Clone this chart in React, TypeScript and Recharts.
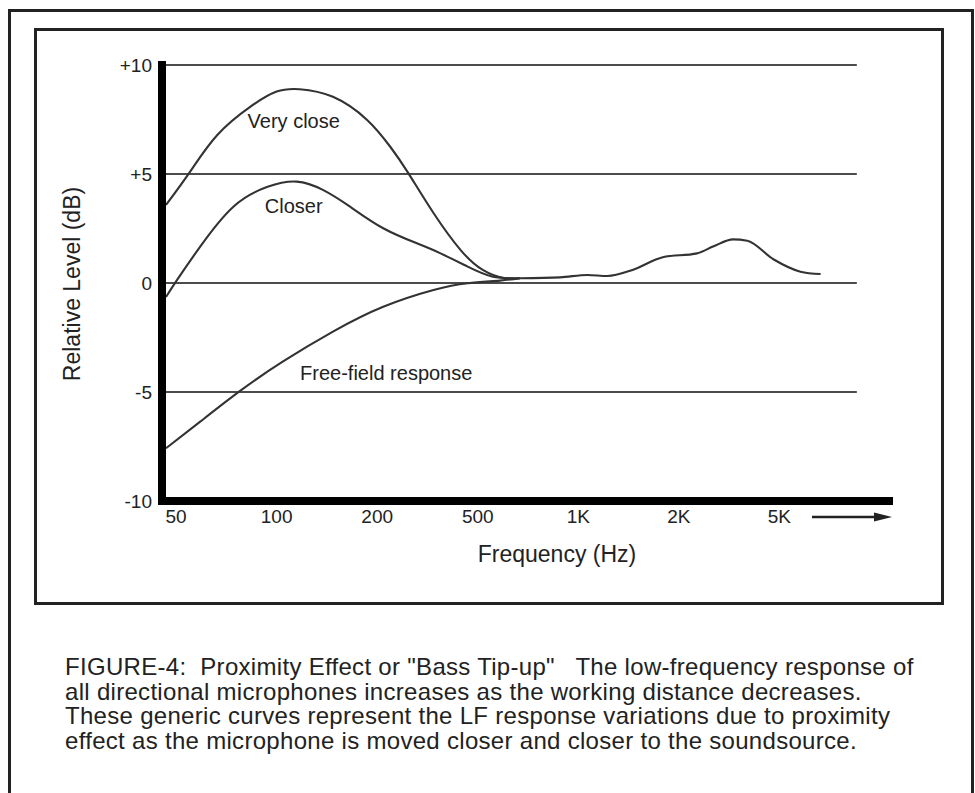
import React from 'react';
import { LineChart, Line, XAxis, YAxis, ReferenceLine, ReferenceDot } from 'recharts';

const FONT = '"Liberation Sans", Arial, Helvetica, sans-serif';

// X axis: evenly spaced frequency tick positions (chart is drawn with equal spacing between labels)
const freqTickPos = [0, 1, 2, 3, 4, 5, 6];
const freqTickLabels = ['50', '100', '200', '500', '1K', '2K', '5K'];

const levelTicks = [-10, -5, 0, 5, 10];
const levelTickLabels = ['-10', '-5', '0', '+5', '+10'];
const gridLevels = [-5, 0, 5, 10];

// Series (x in tick-position units, y in dB)
const veryCloseFreq = [-0.1, 0.14, 0.41, 0.74, 1.0, 1.23, 1.56, 1.9, 2.13, 2.3, 2.56, 2.83, 3.05, 3.26, 3.42];
const veryCloseLevel = [3.58, 5.11, 6.79, 8.09, 8.78, 8.89, 8.54, 7.48, 6.25, 5.11, 3.21, 1.51, 0.6, 0.23, 0.22];

const closerFreq = [-0.1, 0.01, 0.24, 0.57, 0.91, 1.2, 1.46, 1.73, 2.06, 2.4, 2.63, 2.9, 3.15, 3.42];
const closerLevel = [-0.64, 0.14, 1.67, 3.5, 4.41, 4.65, 4.27, 3.5, 2.51, 1.81, 1.36, 0.75, 0.29, 0.22];

const freeFieldFreq = [-0.1, 0.24, 0.64, 1.06, 1.56, 2.06, 2.56, 2.9, 3.22, 3.42];
const freeFieldLevel = [-7.58, -6.36, -4.94, -3.61, -2.23, -1.09, -0.32, -0.01, 0.11, 0.22];

// common high-frequency response shared by all curves
const commonFreq = [3.42, 3.82, 4.09, 4.29, 4.54, 4.84, 5.18, 5.34, 5.54, 5.68, 5.94, 6.21, 6.41];
const commonLevel = [0.22, 0.26, 0.37, 0.32, 0.6, 1.18, 1.36, 1.67, 2.0, 1.94, 1.09, 0.52, 0.41];

const curveLabels = ['Very close', 'Closer', 'Free-field response'];
const curveLabelFreq = [1.17, 1.17, 2.09];
const curveLabelLevel = [7.11, 3.21, -4.45];

const captionLines = [
  'FIGURE-4:  Proximity Effect or "Bass Tip-up"   The low-frequency response of',
  'all directional microphones increases as the working distance decreases.',
  'These generic curves represent the LF response variations due to proximity',
  'effect as the microphone is moved closer and closer to the soundsource.',
];

const toData = (xs: number[], ys: number[]) => xs.map((f, i) => ({ f, v: ys[i] }));
const veryCloseData = toData(veryCloseFreq, veryCloseLevel);
const closerData = toData(closerFreq, closerLevel);
const freeFieldData = toData(freeFieldFreq, freeFieldLevel);
const commonData = toData(commonFreq, commonLevel);

const X_MIN = -0.14;
const X_MAX = 7.09;
const GRID_END = 6.77;

export default function App() {
  const lineColor = '#333';
  const lw = 2.1;
  return (
    <div
      style={{
        position: 'absolute',
        left: 0,
        top: 0,
        width: 975,
        height: 793,
        overflow: 'hidden',
        background: '#fff',
        fontFamily: FONT,
      }}
    >
      {/* outer frame */}
      <div
        style={{
          position: 'absolute',
          left: 8,
          top: 9,
          width: 966,
          height: 820,
          border: '3px solid #222',
          boxSizing: 'border-box',
        }}
      />
      {/* inner frame */}
      <div
        style={{
          position: 'absolute',
          left: 34,
          top: 28,
          width: 910,
          height: 577,
          border: '3px solid #222',
          boxSizing: 'border-box',
        }}
      />
      <div style={{ position: 'absolute', left: 0, top: 0 }}>
        <LineChart width={975} height={610} margin={{ top: 65, right: 86, bottom: 69, left: 0 }}>
          <XAxis
            type="number"
            dataKey="f"
            domain={[X_MIN, X_MAX]}
            allowDataOverflow
            ticks={freqTickPos}
            interval={0}
            tickFormatter={(v: number) => freqTickLabels[Math.round(v)] ?? ''}
            axisLine={{ stroke: '#000', strokeWidth: 8, strokeLinecap: 'square' }}
            tickLine={false}
            tickMargin={3}
            height={40}
            tick={{ fontSize: 19, fill: '#222', fontFamily: FONT }}
          />
          <YAxis
            type="number"
            domain={[-10, 10]}
            allowDataOverflow
            ticks={levelTicks}
            interval={0}
            tickFormatter={(v: number) => levelTickLabels[levelTicks.indexOf(v)] ?? ''}
            axisLine={{ stroke: '#000', strokeWidth: 8, strokeLinecap: 'square' }}
            tickLine={false}
            tickMargin={4}
            width={162}
            tick={{ fontSize: 19, fill: '#222', fontFamily: FONT }}
          />
          {gridLevels.map((g) => (
            <ReferenceLine
              key={g}
              segment={[
                { x: X_MIN, y: g },
                { x: GRID_END, y: g },
              ]}
              stroke="#111"
              strokeWidth={1.6}
              ifOverflow="visible"
            />
          ))}
          <Line data={freeFieldData} dataKey="v" type="natural" stroke={lineColor} strokeWidth={lw} dot={false} isAnimationActive={false} />
          <Line data={closerData} dataKey="v" type="natural" stroke={lineColor} strokeWidth={lw} dot={false} isAnimationActive={false} />
          <Line data={veryCloseData} dataKey="v" type="natural" stroke={lineColor} strokeWidth={lw} dot={false} isAnimationActive={false} />
          <Line data={commonData} dataKey="v" type="monotone" stroke={lineColor} strokeWidth={lw} dot={false} isAnimationActive={false} />
          {curveLabels.map((t, i) => (
            <ReferenceDot
              key={t}
              x={curveLabelFreq[i]}
              y={curveLabelLevel[i]}
              r={1}
              ifOverflow="visible"
              shape={(p: any) => (
                <text x={p.cx} y={p.cy} textAnchor="middle" fontSize={20} fill="#222" fontFamily={FONT}>
                  {t}
                </text>
              )}
            />
          ))}
        </LineChart>
      </div>
      <svg width={975} height={793} style={{ position: 'absolute', left: 0, top: 0, pointerEvents: 'none' }}>
        <text x={557} y={562} textAnchor="middle" fontSize={23} fill="#222" fontFamily={FONT}>
          Frequency (Hz)
        </text>
        <text
          x={80}
          y={284}
          transform="rotate(-90 80 284)"
          textAnchor="middle"
          fontSize={23}
          fill="#222"
          fontFamily={FONT}
        >
          Relative Level (dB)
        </text>
        <line x1={812} y1={517} x2={878} y2={517} stroke="#222" strokeWidth={2.5} />
        <polygon points="874,512.5 892,517 874,521.5" fill="#222" />
      </svg>
      <div
        style={{
          position: 'absolute',
          left: 65,
          top: 655,
          fontSize: 24,
          lineHeight: '24.5px',
          letterSpacing: '0.3px',
          color: '#222',
          fontFamily: FONT,
          whiteSpace: 'pre',
        }}
      >
        {captionLines.map((l) => (
          <div key={l}>{l}</div>
        ))}
      </div>
    </div>
  );
}
